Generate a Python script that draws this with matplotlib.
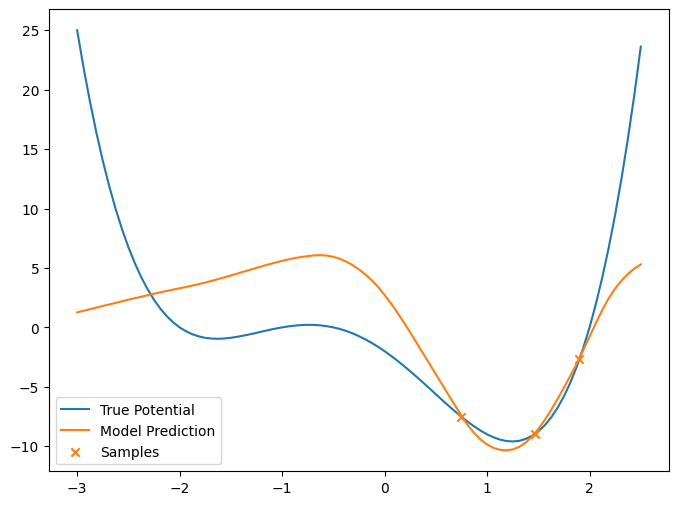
import matplotlib
matplotlib.use("Agg")
import matplotlib.pyplot as plt

x_true = [-3.0, -2.9375, -2.875, -2.8125, -2.75, -2.6875, -2.625, -2.5625, -2.5, -2.4375,
          -2.375, -2.3125, -2.25, -2.1875, -2.125, -2.0625, -2.0, -1.9375, -1.875, -1.8125,
          -1.75, -1.6875, -1.625, -1.5625, -1.5, -1.4375, -1.375, -1.3125, -1.25, -1.1875,
          -1.125, -1.0625, -1.0, -0.9375, -0.875, -0.8125, -0.75, -0.6875, -0.625, -0.5625,
          -0.5, -0.4375, -0.375, -0.3125, -0.25, -0.1875, -0.125, -0.0625, 0.0, 0.0625,
          0.125, 0.1875, 0.25, 0.3125, 0.375, 0.4375, 0.5, 0.5625, 0.625, 0.6875,
          0.75, 0.8125, 0.875, 0.9375, 1.0, 1.0625, 1.125, 1.1875, 1.25, 1.3125,
          1.375, 1.4375, 1.5, 1.5625, 1.625, 1.6875, 1.75, 1.8125, 1.875, 1.9375,
          2.0, 2.0625, 2.125, 2.1875, 2.25, 2.3125, 2.375, 2.4375, 2.5]
y_true = [25.0, 21.86, 19.0, 16.39, 14.03, 11.90, 9.98, 8.27, 6.75, 5.41,
          4.23, 3.21, 2.32, 1.57, 0.94, 0.42, 0.0, -0.33, -0.58, -0.76,
          -0.88, -0.94, -0.96, -0.93, -0.875, -0.79, -0.69, -0.58, -0.46, -0.33,
          -0.21, -0.10, 0.0, 0.085, 0.15, 0.195, 0.215, 0.207, 0.17, 0.10,
          0.0, -0.13, -0.30, -0.50, -0.74, -1.01, -1.31, -1.64, -2.0, -2.39,
          -2.80, -3.24, -3.69, -4.16, -4.64, -5.13, -5.625, -6.12, -6.60, -7.07,
          -7.52, -7.95, -8.34, -8.69, -9.0, -9.25, -9.44, -9.56, -9.60, -9.55,
          -9.39, -9.13, -8.75, -8.24, -7.58, -6.77, -5.80, -4.65, -3.31, -1.76,
          0.0, 1.99, 4.23, 6.73, 9.50, 12.56, 15.92, 19.60, 23.63]

x_pred = [-3.0, -2.875, -2.75, -2.625, -2.5, -2.375, -2.25, -2.125, -2.0, -1.875,
          -1.75, -1.625, -1.5, -1.375, -1.25, -1.125, -1.0, -0.875, -0.75, -0.6875,
          -0.625, -0.5625, -0.5, -0.4375, -0.375, -0.3125, -0.25, -0.1875, -0.125, -0.0625,
          0.0, 0.0625, 0.125, 0.1875, 0.25, 0.3125, 0.375, 0.4375, 0.5, 0.5625,
          0.625, 0.6875, 0.75, 0.8125, 0.875, 0.9375, 1.0, 1.0625, 1.125, 1.1875,
          1.25, 1.3125, 1.375, 1.4375, 1.5, 1.5625, 1.625, 1.6875, 1.75, 1.8125,
          1.875, 1.9375, 2.0, 2.0625, 2.125, 2.1875, 2.25, 2.3125, 2.375, 2.4375,
          2.5]
y_pred = [1.26, 1.53, 1.8, 2.06, 2.33, 2.58, 2.84, 3.07, 3.29, 3.52,
          3.77, 4.06, 4.37, 4.69, 5.01, 5.32, 5.6, 5.84, 6.0, 6.06,
          6.08, 6.04, 5.94, 5.77, 5.54, 5.24, 4.88, 4.45, 3.96, 3.39,
          2.73, 2.01, 1.24, 0.42, -0.43, -1.30, -2.18, -3.06, -3.94, -4.82,
          -5.70, -6.57, -7.44, -8.24, -8.90, -9.44, -9.85, -10.14, -10.30, -10.34,
          -10.27, -10.06, -9.70, -9.20, -8.56, -7.80, -6.95, -6.03, -5.07, -4.07,
          -3.05, -1.93, -0.78, 0.38, 1.48, 2.45, 3.27, 3.95, 4.5, 4.95,
          5.3]

x_samples = [0.75, 1.466, 1.9]
y_samples = [-7.5, -8.95, -2.65]

fig, ax = plt.subplots(figsize=(8, 6), dpi=100)
ax.plot(x_true, y_true, color="C0", label="True Potential")
ax.plot(x_pred, y_pred, color="C1", label="Model Prediction")
ax.scatter(x_samples, y_samples, marker="x", color="C1", label="Samples", zorder=3)
ax.legend(loc="lower left")
fig.savefig("out.png", dpi=100, bbox_inches="tight")
